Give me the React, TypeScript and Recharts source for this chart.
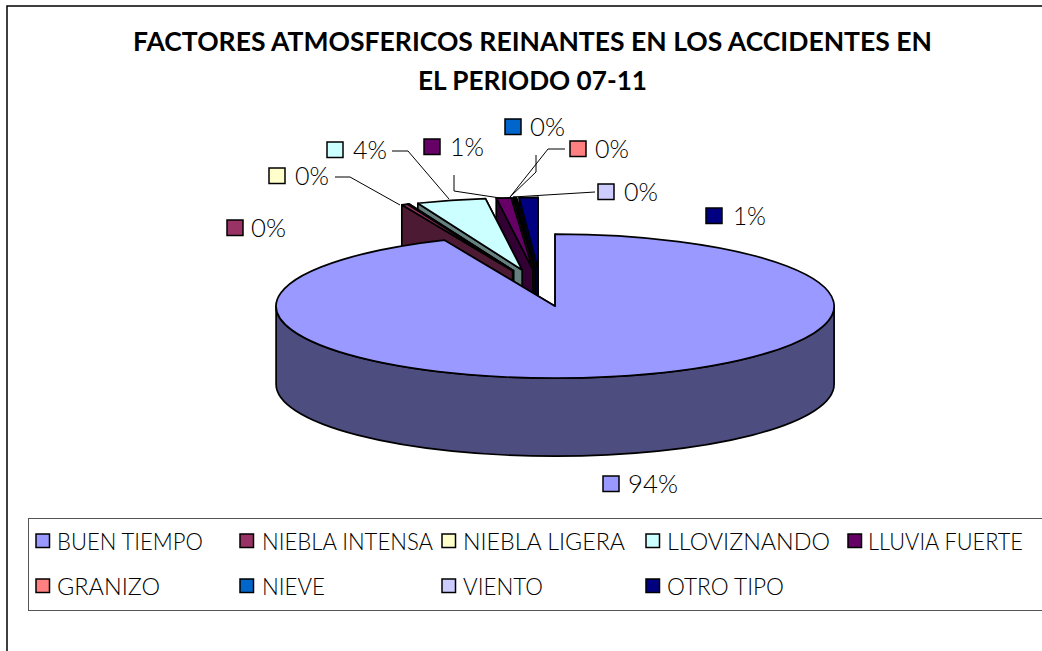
import { Legend, Pie, PieChart } from 'recharts';

const categories = [
  'BUEN TIEMPO',
  'NIEBLA INTENSA',
  'NIEBLA LIGERA',
  'LLOVIZNANDO',
  'LLUVIA FUERTE',
  'GRANIZO',
  'NIEVE',
  'VIENTO',
  'OTRO TIPO',
];
const values = [93.5, 0.35, 0.05, 4.0, 0.85, 0.04, 0.03, 0.1, 1.08];
const topColors = ['#9999ff', '#993366', '#ffffcc', '#ccffff', '#660066', '#ff8080', '#0066cc', '#ccccff', '#000080'];
const wallColors = ['#4d4d80', '#4d1a33', '#808066', '#668080', '#330033', '#804040', '#003366', '#666680', '#000040'];
const titleLines = ['FACTORES ATMOSFERICOS REINANTES EN LOS ACCIDENTES EN', 'EL PERIODO 07-11'];

const FONT = 'Lato, sans-serif';
const RX = 279;
const TILT = 0.258;
const DEPTH = 78;
const EXPLODE = 72;

// hand placed label boxes: swatch corner, text start, leader line
const labelLayout = [
  { x: 603, y: 476, tx: 628, tw: 50, line: '' },
  { x: 227, y: 220, tx: 251, tw: 35, line: '' },
  { x: 269, y: 168, tx: 295, tw: 34, line: '335,177 350,177 400,205' },
  { x: 327, y: 142, tx: 353, tw: 34, line: '392,151 408,151 449,199' },
  { x: 424, y: 139, tx: 450, tw: 34, line: '454,175 454,191 500,198 510,198' },
  { x: 570, y: 141, tx: 595, tw: 34, line: '565,149 548,149 510,197' },
  { x: 505, y: 119, tx: 530, tw: 35, line: '536,155 536,172 510,197' },
  { x: 598, y: 184, tx: 624, tw: 34, line: '595,192 513,197' },
  { x: 706, y: 208, tx: 733, tw: 33, line: '' },
];
// legend cells: swatch x, text x, text width
const legendLayout = [
  { row: 0, sx: 36, tx: 57, tw: 146 },
  { row: 0, sx: 240, tx: 262, tw: 171 },
  { row: 0, sx: 442, tx: 463, tw: 162 },
  { row: 0, sx: 646, tx: 667, tw: 163 },
  { row: 0, sx: 848, tx: 868, tw: 155 },
  { row: 1, sx: 36, tx: 57, tw: 103 },
  { row: 1, sx: 240, tx: 262, tw: 63 },
  { row: 1, sx: 442, tx: 463, tw: 80 },
  { row: 1, sx: 646, tx: 667, tw: 117 },
];

// reversed + counter clockwise so slices paint back to front, big one last
const pieData = categories
  .map((name, i) => ({ name, value: values[i], fill: topColors[i], wall: wallColors[i] }))
  .reverse();

const rad = (deg: number) => (deg * Math.PI) / 180;

function Slice3D(props: any) {
  const a0 = Math.min(props.startAngle, props.endAngle);
  const a1 = Math.max(props.startAngle, props.endAngle);
  const mid = (a0 + a1) / 2;
  const wall = props.wall ?? props.payload?.wall;
  const ox = props.cx + EXPLODE * Math.cos(rad(mid));
  const oy = props.cy - EXPLODE * TILT * Math.sin(rad(mid));
  const px = (a: number) => ox + props.outerRadius * Math.cos(rad(a));
  const py = (a: number) => oy - props.outerRadius * TILT * Math.sin(rad(a));
  const ry = props.outerRadius * TILT;
  const arc = (from: number, to: number, sweep: number) =>
    `A${props.outerRadius} ${ry} 0 ${Math.abs(to - from) > 180 ? 1 : 0} ${sweep} `;
  const radialWall = (a: number) =>
    `M${ox} ${oy}L${px(a)} ${py(a)}L${px(a)} ${py(a) + DEPTH}L${ox} ${oy + DEPTH}Z`;

  // front rim only exists on the lower half of the ellipse
  const rims: string[] = [];
  for (const k of [-360, 0, 360]) {
    const from = Math.max(a0, 180 + k);
    const to = Math.min(a1, 360 + k);
    if (to > from) {
      rims.push(
        `M${px(from)} ${py(from)}${arc(from, to, 0)}${px(to)} ${py(to)}` +
          `L${px(to)} ${py(to) + DEPTH}${arc(to, from, 1)}${px(from)} ${py(from) + DEPTH}Z`,
      );
    }
  }
  const top = `M${ox} ${oy}L${px(a0)} ${py(a0)}${arc(a0, a1, 0)}${px(a1)} ${py(a1)}Z`;
  const edge = { stroke: '#000', strokeWidth: 1.7, strokeLinejoin: 'round' as const };
  return (
    <g>
      <path d={radialWall(a0)} fill={wall} {...edge} />
      <path d={radialWall(a1)} fill={wall} {...edge} />
      {rims.map((d) => (
        <path key={d} d={d} fill={wall} {...edge} />
      ))}
      <path d={top} fill={props.fill} {...edge} />
    </g>
  );
}

function SliceLabel(props: any) {
  const i = categories.indexOf(props.name);
  const box = labelLayout[i];
  return (
    <g>
      {box.line && <polyline points={box.line} fill="none" stroke="#000" strokeWidth={1} />}
      <rect x={box.x} y={box.y} width={16} height={15.5} fill={topColors[i]} stroke="#000" strokeWidth={1.5} />
      <text
        x={box.tx}
        y={box.y + 17}
        fontFamily={FONT}
        fontWeight={300}
        fontSize={25}
        fill="#000"
        textLength={box.tw}
        lengthAdjust="spacingAndGlyphs"
      >
        {`${Math.round(props.percent * 100)}%`}
      </text>
    </g>
  );
}

function LegendBox() {
  return (
    <svg width={1042} height={133} style={{ display: 'block' }}>
      <rect x={28.5} y={0.5} width={1100} height={92} fill="#fff" stroke="#555" strokeWidth={1} />
      {categories.map((name, i) => {
        const cell = legendLayout[i];
        const y = 16 + cell.row * 45;
        return (
          <g key={name}>
            <rect x={cell.sx} y={y} width={13.5} height={13.5} fill={topColors[i]} stroke="#000" strokeWidth={1.5} />
            <text
              x={cell.tx}
              y={y + 15.5}
              fontFamily={FONT}
              fontWeight={300}
              fontSize={24}
              fill="#000"
              textLength={cell.tw}
              lengthAdjust="spacingAndGlyphs"
            >
              {name}
            </text>
          </g>
        );
      })}
    </svg>
  );
}

export default function App() {
  return (
    <div style={{ position: 'absolute', left: 0, top: 0, width: 1042, height: 651, overflow: 'hidden', background: '#fff' }}>
      <PieChart width={1042} height={651} margin={{ top: 0, right: 0, bottom: 0, left: 0 }}>
        <rect x={7} y={6} width={1200} height={800} fill="#fff" stroke="#000" strokeWidth={1.5} />
        <text x={532.5} y={51} textAnchor="middle" fontFamily={FONT} fontWeight={700} fontSize={26.5} fill="#000" textLength={799} lengthAdjust="spacingAndGlyphs">
          {titleLines[0]}
        </text>
        <text x={532.5} y={90} textAnchor="middle" fontFamily={FONT} fontWeight={700} fontSize={26.5} fill="#000" textLength={229} lengthAdjust="spacingAndGlyphs">
          {titleLines[1]}
        </text>
        <Pie
          data={pieData}
          dataKey="value"
          nameKey="name"
          cx={540.5}
          cy={288}
          outerRadius={RX}
          startAngle={90}
          endAngle={450}
          isAnimationActive={false}
          shape={Slice3D}
          label={SliceLabel}
          labelLine={false}
        />
        <Legend
          content={LegendBox}
          wrapperStyle={{ left: 0, top: 518, bottom: 'auto', width: 1042, height: 133 }}
        />
      </PieChart>
    </div>
  );
}
